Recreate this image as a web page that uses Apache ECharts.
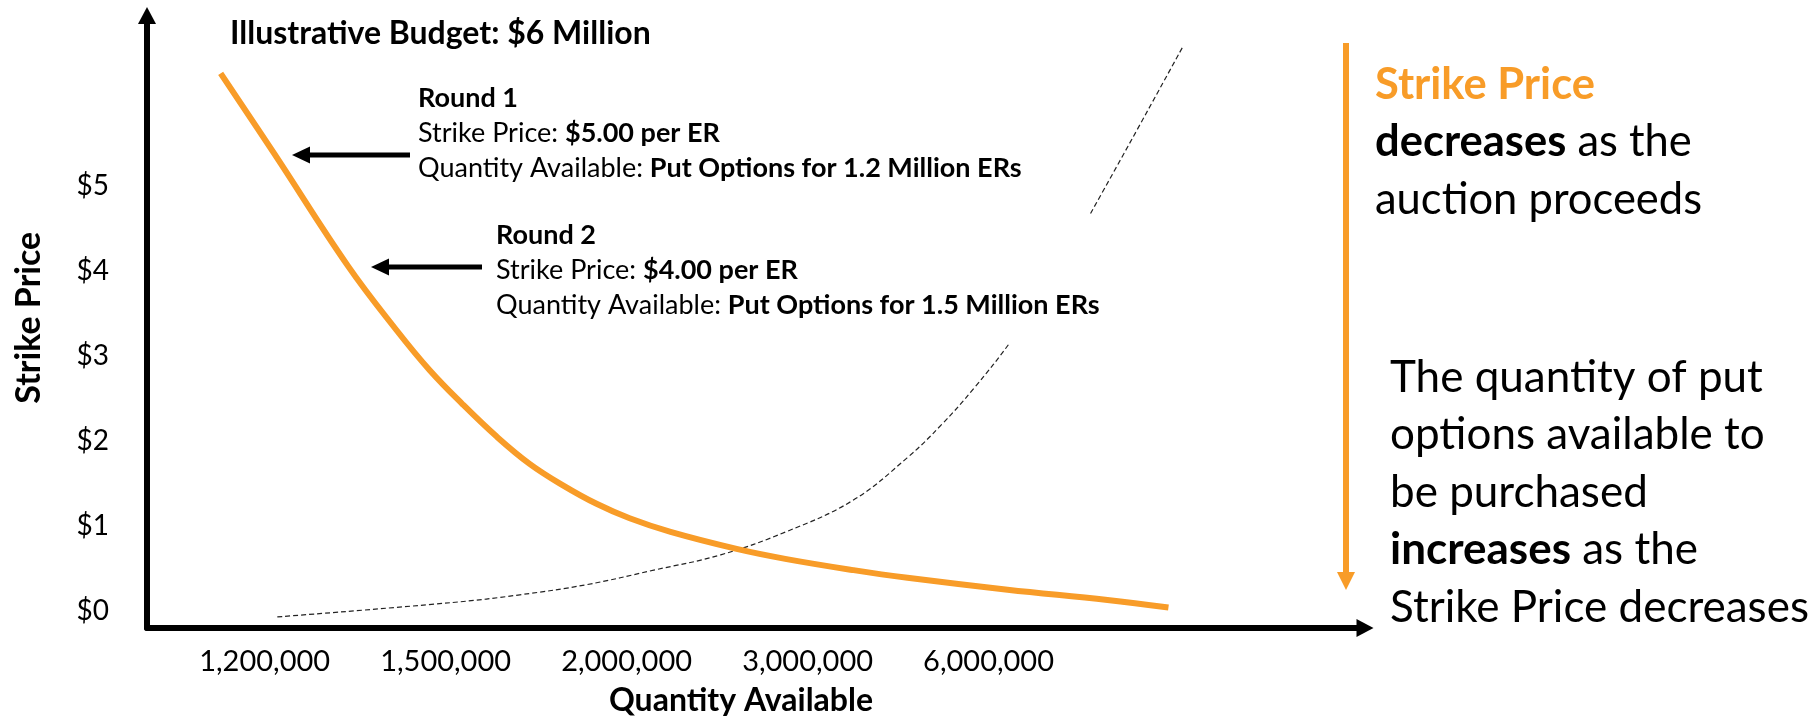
<!DOCTYPE html>
<html>
<head>
<meta charset="utf-8">
<script src="https://cdn.jsdelivr.net/npm/echarts@6/dist/echarts.min.js"></script>
<style>
html,body{margin:0;padding:0;background:#ffffff;}
#chart{width:1815px;height:722px;}
</style>
</head>
<body>
<div id="chart"></div>
<script>
// ---- data (x is the position index of the quantity tick labels) ----
const quantityLabels = ['1,200,000', '1,500,000', '2,000,000', '3,000,000', '6,000,000'];
const quantityTickIdx = [0, 1, 2, 3, 4];
const priceTicks = [0, 1, 2, 3, 4, 5];

// Strike price curve (orange)
const strikeCurveX = [-0.243, 0.055, 0.459, 0.729, 0.912, 1.094, 1.282, 1.464, 1.646, 1.834, 2.017, 2.243, 2.608, 2.884, 3.254, 3.552, 4.105, 4.657, 4.994];
const strikeCurveY = [6.32, 5.37, 4.06, 3.30, 2.83, 2.43, 2.05, 1.73, 1.48, 1.26, 1.09, 0.93, 0.73, 0.61, 0.48, 0.39, 0.25, 0.13, 0.04];

// Quantity curve (thin dashed)
const quantityCurveX = [0.07, 1.04, 1.41, 1.78, 2.15, 2.52, 2.88, 3.25, 3.55, 3.74, 3.92, 4.13, 4.34, 4.56, 5.07];
const quantityCurveY = [-0.07, 0.10, 0.19, 0.31, 0.48, 0.66, 0.93, 1.30, 1.80, 2.19, 2.62, 3.19, 3.86, 4.66, 6.62];

const ORANGE = '#F89C28';
const FONT = 'Lato, "Open Sans", sans-serif';

const zip = (xs, ys) => xs.map((x, i) => [x, ys[i]]);

const chart = echarts.init(document.getElementById('chart'), null, { renderer: 'canvas' });

const txt = (size, weight, color) => ({ fontFamily: FONT, fontSize: size, fontWeight: weight, fill: color, color: color });

chart.setOption({
  animation: false,
  backgroundColor: '#ffffff',
  title: {
    text: 'Illustrative Budget: $6 Million',
    left: 230, top: 18, padding: 0,
    textStyle: { fontFamily: FONT, fontSize: 32, fontWeight: 'bold', color: '#000' }
  },
  grid: { left: 147, right: 450, top: 15.5, bottom: 89.5, containLabel: false },
  xAxis: {
    type: 'value', min: -0.65, max: 6.08,
    name: 'Quantity Available', nameLocation: 'middle', nameGap: 57,
    nameTextStyle: { fontFamily: FONT, fontSize: 32, fontWeight: 'bold', color: '#000', padding: [0, 30, 0, 0] },
    axisLine: { show: true, onZero: false, lineStyle: { color: '#000', width: 6 }, symbol: ['none', 'triangle'], symbolSize: [18, 17] },
    axisTick: { show: false },
    splitLine: { show: false },
    axisLabel: {
      customValues: quantityTickIdx,
      formatter: v => quantityLabels[Math.round(v)] || '',
      margin: 19, fontFamily: FONT, fontSize: 29, color: '#000'
    }
  },
  yAxis: {
    type: 'value', min: -0.2, max: 7.0,
    name: 'Strike Price', nameLocation: 'middle', nameGap: 101, nameRotate: 90,
    nameTextStyle: { fontFamily: FONT, fontSize: 34, fontWeight: 'bold', color: '#000', padding: [0, 0, 0, 8] },
    axisLine: { show: true, onZero: false, lineStyle: { color: '#000', width: 6 }, symbol: ['none', 'triangle'], symbolSize: [18, 17] },
    axisTick: { show: false },
    splitLine: { show: false },
    axisLabel: {
      customValues: priceTicks,
      formatter: v => '$' + v,
      margin: 38, fontFamily: FONT, fontSize: 28, color: '#000'
    }
  },
  series: [
    {
      name: 'Quantity', type: 'line', data: zip(quantityCurveX, quantityCurveY),
      smooth: 0.4, symbol: 'none', z: 2,
      lineStyle: { color: '#222', width: 1.2, type: [5, 3] }
    },
    {
      name: 'Strike Price', type: 'line', data: zip(strikeCurveX, strikeCurveY),
      smooth: 0.4, symbol: 'none', z: 3,
      lineStyle: { color: ORANGE, width: 6 }
    }
  ],
  graphic: [
    // round 1 arrow
    { type: 'line', z: 60, shape: { x1: 410, y1: 155, x2: 305, y2: 155 }, style: { stroke: '#000', lineWidth: 5 } },
    { type: 'polygon', z: 60, shape: { points: [[292, 155], [310, 146.5], [310, 163.5]] }, style: { fill: '#000' } },
    // round 2 arrow
    { type: 'line', z: 60, shape: { x1: 482, y1: 267, x2: 385, y2: 267 }, style: { stroke: '#000', lineWidth: 5 } },
    { type: 'polygon', z: 60, shape: { points: [[371, 267], [389, 258.5], [389, 275.5]] }, style: { fill: '#000' } },
    // round 1 text
    {
      type: 'text', z: 60, x: 418, y: 81,
      style: {
        text: '{b|Round 1}\n{n|Strike Price: }{b|$5.00 per ER}\n{n|Quantity Available: }{b|Put Options for 1.2 Million ERs}',
        verticalAlign: 'top', align: 'left',
        rich: {
          b: Object.assign(txt(27, 'bold', '#000'), { lineHeight: 35 }),
          n: Object.assign(txt(27, 'normal', '#000'), { lineHeight: 35 })
        }
      }
    },
    // round 2 text box (white background hides the dashed curve behind it)
    { type: 'rect', z: 55, shape: { x: 488, y: 214, width: 634, height: 130 }, style: { fill: '#ffffff' } },
    {
      type: 'text', z: 60, x: 496, y: 218,
      style: {
        text: '{b|Round 2}\n{n|Strike Price: }{b|$4.00 per ER}\n{n|Quantity Available: }{b|Put Options for 1.5 Million ERs}',
        verticalAlign: 'top', align: 'left',
        rich: {
          b: Object.assign(txt(27, 'bold', '#000'), { lineHeight: 35 }),
          n: Object.assign(txt(27, 'normal', '#000'), { lineHeight: 35 })
        }
      }
    },
    // right orange arrow
    { type: 'line', z: 60, shape: { x1: 1346, y1: 43, x2: 1346, y2: 578 }, style: { stroke: ORANGE, lineWidth: 6 } },
    { type: 'polygon', z: 60, shape: { points: [[1346, 590], [1337, 572], [1355, 572]] }, style: { fill: ORANGE } },
    // right texts
    {
      type: 'text', z: 60, x: 1375, y: 56,
      style: {
        text: '{o|Strike Price}\n{b|decreases}{n| as the}\n{n|auction proceeds}',
        verticalAlign: 'top', align: 'left',
        rich: {
          o: Object.assign(txt(43.5, 'bold', ORANGE), { lineHeight: 57.5 }),
          b: Object.assign(txt(43.5, 'bold', '#000'), { lineHeight: 57.5 }),
          n: Object.assign(txt(43.5, 'normal', '#000'), { lineHeight: 57.5 })
        }
      }
    },
    {
      type: 'text', z: 60, x: 1390, y: 349,
      style: {
        text: '{n|The quantity of put}\n{n|options available to}\n{n|be purchased}\n{b|increases}{n| as the}\n{n|Strike Price decreases}',
        verticalAlign: 'top', align: 'left',
        rich: {
          b: Object.assign(txt(44, 'bold', '#000'), { lineHeight: 57.5 }),
          n: Object.assign(txt(44, 'normal', '#000'), { lineHeight: 57.5 })
        }
      }
    }
  ]
});
</script>
</body>
</html>
